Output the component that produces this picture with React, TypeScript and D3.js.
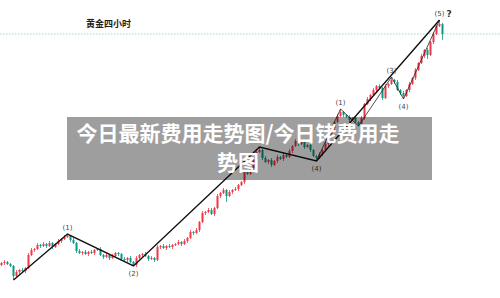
import React from 'react';
import * as d3 from 'd3';

const W = 500;
const H = 298;

const title = '黄金四小时';
const bannerLines = ['今日最新费用走势图/今日铑费用走', '势图'];

// 4-hour gold closes, oldest first
const closes = [
  1937, 1938, 1936, 1934, 1924, 1928, 1930, 1929, 1932, 1945,
  1950, 1951, 1955, 1954, 1956, 1954, 1957, 1953, 1956, 1959,
  1961, 1963, 1964, 1960, 1957, 1949, 1947, 1948, 1946, 1948,
  1947, 1950, 1951, 1945, 1943, 1945, 1942, 1944, 1947, 1946,
  1941, 1940, 1942, 1938, 1935, 1942, 1945, 1946, 1944, 1941,
  1942, 1940, 1953, 1954, 1952, 1954, 1953, 1955, 1956, 1958,
  1956, 1959, 1962, 1968, 1967, 1970, 1978, 1987, 1988, 1990,
  1986, 1992, 2004, 2007, 2010, 2004, 2008, 2010, 2011, 2015,
  2018, 2028, 2026, 2032, 2040, 2048, 2050, 2042, 2038, 2040,
  2035, 2039, 2043, 2041, 2045, 2043, 2049, 2054, 2059, 2056,
  2058, 2053, 2055, 2050, 2044, 2042, 2046, 2050, 2056, 2063,
  2072, 2078, 2084, 2088, 2085, 2083, 2080, 2082, 2078, 2076,
  2082, 2096, 2101, 2105, 2110, 2114, 2112, 2102, 2114, 2116,
  2120, 2118, 2110, 2107, 2104, 2110, 2116, 2122, 2130, 2137,
  2144, 2150, 2145, 2158, 2166, 2174, 2176, 2166,
];
const firstOpen = 1935;

// upper / lower shadow lengths beyond the body
const wickHi = [
  1, 2, 1, 1, 1, 2, 1, 2, 1, 2,
  2, 1, 2, 1, 2, 1, 2, 1, 1, 2,
  1, 2, 2, 1, 2, 1, 2, 1, 2, 1,
  2, 1, 1, 2, 1, 2, 1, 2, 1, 1,
  1, 2, 1, 2, 1, 2, 1, 1, 2, 1,
  2, 1, 2, 1, 2, 1, 2, 1, 1, 2,
  1, 2, 1, 2, 1, 2, 1, 2, 1, 2,
  2, 1, 2, 1, 2, 1, 2, 1, 2, 1,
  1, 2, 1, 2, 1, 2, 3, 1, 2, 1,
  2, 1, 2, 1, 2, 1, 2, 1, 2, 1,
  1, 2, 1, 2, 1, 1, 2, 1, 2, 1,
  2, 1, 2, 3, 1, 1, 2, 1, 2, 1,
  2, 1, 2, 1, 2, 1, 2, 1, 2, 1,
  3, 1, 2, 1, 2, 1, 2, 1, 2, 1,
  2, 1, 2, 1, 2, 1, 4, 1,
];
const wickLo = [
  1, 2, 1, 1, 4, 1, 2, 1, 2, 1,
  1, 2, 1, 2, 1, 2, 1, 2, 1, 1,
  2, 1, 1, 2, 1, 2, 1, 2, 1, 2,
  1, 2, 1, 1, 2, 1, 2, 1, 1, 2,
  2, 1, 2, 1, 1, 2, 1, 2, 1, 2,
  1, 2, 1, 2, 1, 2, 1, 2, 1, 1,
  2, 1, 2, 1, 2, 1, 2, 1, 2, 1,
  1, 2, 1, 2, 1, 6, 1, 2, 1, 2,
  1, 2, 1, 1, 2, 1, 1, 2, 1, 2,
  2, 1, 2, 1, 2, 1, 1, 2, 1, 2,
  1, 2, 1, 2, 1, 3, 1, 2, 1, 2,
  1, 2, 1, 1, 2, 1, 2, 1, 1, 2,
  1, 2, 1, 2, 1, 2, 1, 2, 1, 2,
  1, 2, 1, 2, 3, 1, 2, 1, 2, 1,
  1, 2, 4, 1, 2, 1, 1, 6,
];

// Elliott count: primary degree (the wave-3 tag sits under the banner and is left unlabelled)
const mainWave = [
  { i: 4, p: 1920, label: '', above: false },
  { i: 22, p: 1966, label: '(1)', above: true },
  { i: 44, p: 1934, label: '(2)', above: false },
  { i: 86, p: 2053, label: '', above: true },
  { i: 105, p: 2039, label: '(4)', above: false },
  { i: 146, p: 2180, label: '(5)', above: true },
];
// sub-waves inside the fifth wave
const subWave = [
  { i: 105, p: 2039, label: '', above: false },
  { i: 113, p: 2091, label: '(1)', above: true },
  { i: 119, p: 2074, label: '', above: false },
  { i: 130, p: 2123, label: '(3)', above: true },
  { i: 134, p: 2101, label: '(4)', above: false },
  { i: 146, p: 2180, label: '', above: true },
];
const refLevel = 2166;

const UP = '#f23645';
const DOWN = '#089981';

export default function App() {
  const x = d3.scaleLinear().domain([0, closes.length - 1]).range([1.5, 442.5]);
  const y = d3.scaleLinear().domain([1900, 2200]).range([300, 0]);

  const candles = closes.map((c, i) => {
    const o = i === 0 ? firstOpen : closes[i - 1];
    const hi = Math.max(o, c) + wickHi[i];
    const lo = Math.min(o, c) - wickLo[i];
    return { i, o, c, hi, lo };
  });

  const line = d3
    .line<{ i: number; p: number }>()
    .x((d) => x(d.i))
    .y((d) => y(d.p));

  const labels = [...mainWave, ...subWave].filter((d) => d.label);

  return (
    <svg
      width={W}
      height={H}
      style={{ position: 'absolute', left: 0, top: 0, background: '#fff' }}
      fontFamily="'Noto Sans CJK SC', 'Noto Sans', sans-serif"
    >
      <rect width={W} height={H} fill="#fff" />
      <text x={108.5} y={26.5} fontSize={9} fontWeight={700} fill="#222" textAnchor="middle">
        {title}
      </text>
      <line
        x1={0}
        x2={W}
        y1={y(refLevel)}
        y2={y(refLevel)}
        stroke="#9fd8d2"
        strokeWidth={1}
        strokeDasharray="1.5,1.5"
      />
      <g>
        {candles.map((d) => {
          const col = d.c >= d.o ? UP : DOWN;
          const top = y(Math.max(d.o, d.c));
          const bot = y(Math.min(d.o, d.c));
          return (
            <g key={d.i}>
              <line x1={x(d.i)} x2={x(d.i)} y1={y(d.hi)} y2={y(d.lo)} stroke={col} strokeWidth={0.8} />
              <rect x={x(d.i) - 1} y={top} width={2} height={Math.max(1, bot - top)} fill={col} />
            </g>
          );
        })}
      </g>
      <path d={line(subWave) || ''} fill="none" stroke="#222" strokeWidth={0.8} />
      <path d={line(mainWave) || ''} fill="none" stroke="#111" strokeWidth={1.4} />
      {labels.map((d, k) => (
        <text
          key={k}
          x={x(d.i)}
          y={d.above ? y(d.p) - 4 : y(d.p) + 10}
          fontSize={7}
          fill="#444"
          textAnchor="middle"
          fontFamily="'DejaVu Sans', sans-serif"
        >
          {d.label}
        </text>
      ))}
      <text x={449} y={17} fontSize={9} fontWeight={700} fill="#333" textAnchor="middle" fontFamily="'DejaVu Sans', sans-serif">
        ?
      </text>
      <rect x={67} y={117} width={365} height={63} fill="#000" fillOpacity={0.38} />
      {bannerLines.map((t, k) => (
        <text
          key={k}
          x={238}
          y={141 + k * 29}
          fontSize={21}
          fontWeight={700}
          fill="#fff"
          textAnchor="middle"
        >
          {t}
        </text>
      ))}
    </svg>
  );
}
